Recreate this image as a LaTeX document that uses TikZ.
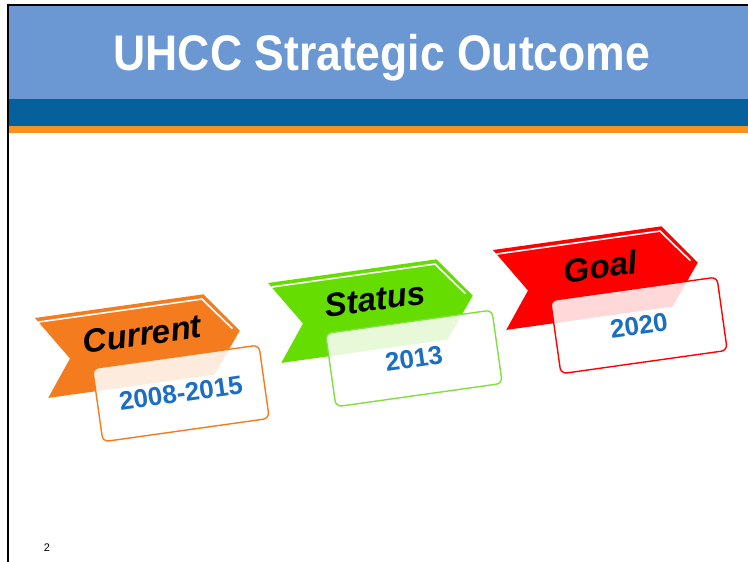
\documentclass[tikz,border=0pt]{standalone}
\usepackage{fontspec}
\setmainfont{Liberation Sans}
\usetikzlibrary{positioning}
\definecolor{HeadBlue}{HTML}{6B98D3}
\definecolor{BandBlue}{HTML}{05609B}
\definecolor{BandOrange}{HTML}{F7941D}
\definecolor{RibOrange}{HTML}{F57B1F}
\definecolor{RibGreen}{HTML}{66DD00}
\definecolor{RibRed}{HTML}{FF0000}
\definecolor{EdgeGreen}{HTML}{80E040}
\definecolor{YearBlue}{HTML}{1B6EC2}

\begin{document}
\begin{tikzpicture}[x=1pt,y=-1pt,
  ribtext/.style={font=\fontsize{33}{33}\selectfont\bfseries\itshape,text=black,inner sep=0pt},
  yeartext/.style={font=\fontsize{26}{26}\selectfont\bfseries,text=YearBlue,inner sep=0pt}]
\useasboundingbox (0,0) rectangle (748,562);
\fill[white] (0,0) rectangle (748,562);
% header bands
\fill[HeadBlue] (8,6) rectangle (748,99);
\fill[BandBlue] (8,99) rectangle (748,126);
\fill[BandOrange] (8,126) rectangle (748,133);
\draw[black,line width=2.5] (7,5) -- (748,5);
\draw[black,line width=2.5] (8,5) -- (8,562);
\node[font=\fontsize{50}{50}\selectfont\bfseries,text=white,xscale=.89,anchor=base] (title) at (382,70) {UHCC Strategic Outcome};
% ribbons with cards
\foreach \i/\x/\y/\col/\edge/\lab/\yr in {1/35/318/RibOrange/RibOrange/Current/2008-2015,2/268/283/RibGreen/EdgeGreen/Status/2013,3/493/250/RibRed/RibRed/Goal/2020}{
  \begin{scope}[shift={(\x,\y)},rotate=8]
    \fill[\col] (0,0) -- (170,0) -- (201,41) -- (170,81) -- (2,81) -- (29,45) -- cycle;
    \draw[white,line width=1.6] (3,4.5) -- (168,4.5) -- (194,38);
    \node[ribtext,rotate=8] (lab-\i) at (104,31) {\lab};
    \filldraw[fill=white,fill opacity=.85,draw=\edge,line width=1.4,rounded corners=6] (50,58) rectangle ++(168,74);
    \node[yeartext,rotate=8] (yr-\i) at (134,95) {\yr};
  \end{scope}}
\node[font=\fontsize{11}{11}\selectfont] (pagenum) at (47,548) {2};
\end{tikzpicture}
\end{document}
